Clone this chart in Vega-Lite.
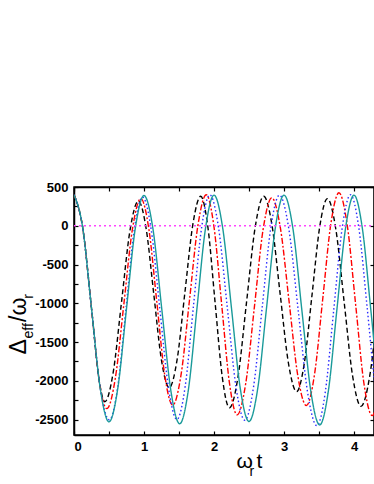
{
  "$schema": "https://vega.github.io/schema/vega-lite/v6.json",
  "width": 300,
  "height": 248,
  "autosize": {"type": "none"},
  "padding": {"left": 74, "top": 187, "right": 0, "bottom": 49},
  "background": "white",
  "config": {
    "view": {"stroke": "black", "strokeWidth": 1.5},
    "axis": {
      "grid": false,
      "domainColor": "black",
      "domainWidth": 1.5,
      "tickColor": "black",
      "tickWidth": 1.2,
      "tickSize": -4,
      "labelFont": "Liberation Sans",
      "labelFontWeight": "bold",
      "labelFontSize": 13,
      "labelColor": "black",
      "titleFont": "Liberation Sans",
      "titleFontWeight": "normal",
      "titleColor": "black"
    }
  },
  "layer": [
    {
      "data": {
        "values": [
          {"s":"a","x":0,"y":400},{"s":"a","x":0.125,"y":-29},{"s":"a","x":0.25,"y":-1065},{"s":"a","x":0.36,"y":-2000},{"s":"a","x":0.44,"y":-2270},{"s":"a","x":0.56,"y":-1891},{"s":"a","x":0.68,"y":-975},{"s":"a","x":0.8,"y":-59},{"s":"a","x":0.92,"y":320},{"s":"a","x":1.03,"y":-33},{"s":"a","x":1.14,"y":-885},{"s":"a","x":1.25,"y":-1737},{"s":"a","x":1.36,"y":-2090},{"s":"a","x":1.473,"y":-1728},{"s":"a","x":1.585,"y":-855},{"s":"a","x":1.698,"y":18},{"s":"a","x":1.81,"y":380},{"s":"a","x":1.913,"y":-20},{"s":"a","x":2.015,"y":-985},{"s":"a","x":2.118,"y":-1950},{"s":"a","x":2.22,"y":-2350},{"s":"a","x":2.343,"y":-1950},{"s":"a","x":2.465,"y":-985},{"s":"a","x":2.588,"y":-20},{"s":"a","x":2.71,"y":380},{"s":"a","x":2.828,"y":11},{"s":"a","x":2.945,"y":-880},{"s":"a","x":3.063,"y":-1771},{"s":"a","x":3.18,"y":-2140},{"s":"a","x":3.29,"y":-1775},{"s":"a","x":3.4,"y":-895},{"s":"a","x":3.51,"y":-15},{"s":"a","x":3.62,"y":350},{"s":"a","x":3.74,"y":-42},{"s":"a","x":3.86,"y":-990},{"s":"a","x":3.98,"y":-1938},{"s":"a","x":4.1,"y":-2330},{"s":"a","x":4.225,"y":-1938},{"s":"a","x":4.35,"y":-990},{"s":"a","x":4.475,"y":-42},{"s":"a","x":4.6,"y":350},
          {"s":"b","x":0,"y":400},{"s":"b","x":0.125,"y":-29},{"s":"b","x":0.25,"y":-1065},{"s":"b","x":0.37,"y":-2060},{"s":"b","x":0.47,"y":-2360},{"s":"b","x":0.591,"y":-1963},{"s":"b","x":0.713,"y":-1005},{"s":"b","x":0.834,"y":-47},{"s":"b","x":0.955,"y":350},{"s":"b","x":1.069,"y":-40},{"s":"b","x":1.183,"y":-983},{"s":"b","x":1.296,"y":-1925},{"s":"b","x":1.41,"y":-2315},{"s":"b","x":1.53,"y":-1918},{"s":"b","x":1.65,"y":-958},{"s":"b","x":1.77,"y":3},{"s":"b","x":1.89,"y":400},{"s":"b","x":2.0,"y":-16},{"s":"b","x":2.11,"y":-1020},{"s":"b","x":2.22,"y":-2024},{"s":"b","x":2.33,"y":-2440},{"s":"b","x":2.454,"y":-2030},{"s":"b","x":2.578,"y":-1040},{"s":"b","x":2.701,"y":-50},{"s":"b","x":2.825,"y":360},{"s":"b","x":2.949,"y":-32},{"s":"b","x":3.073,"y":-980},{"s":"b","x":3.196,"y":-1928},{"s":"b","x":3.32,"y":-2320},{"s":"b","x":3.436,"y":-1918},{"s":"b","x":3.553,"y":-948},{"s":"b","x":3.669,"y":23},{"s":"b","x":3.785,"y":425},{"s":"b","x":3.904,"y":4},{"s":"b","x":4.023,"y":-1013},{"s":"b","x":4.141,"y":-2029},{"s":"b","x":4.26,"y":-2450},{"s":"b","x":4.37,"y":-2033},{"s":"b","x":4.48,"y":-1025},
          {"s":"c","x":0,"y":400},{"s":"c","x":0.125,"y":-29},{"s":"c","x":0.25,"y":-1065},{"s":"c","x":0.375,"y":-2095},{"s":"c","x":0.505,"y":-2505},{"s":"c","x":0.624,"y":-2084},{"s":"c","x":0.743,"y":-1068},{"s":"c","x":0.861,"y":-51},{"s":"c","x":0.98,"y":370},{"s":"c","x":1.103,"y":-50},{"s":"c","x":1.225,"y":-1065},{"s":"c","x":1.348,"y":-2080},{"s":"c","x":1.47,"y":-2500},{"s":"c","x":1.588,"y":-2075},{"s":"c","x":1.705,"y":-1050},{"s":"c","x":1.823,"y":-25},{"s":"c","x":1.94,"y":400},{"s":"c","x":2.065,"y":-26},{"s":"c","x":2.19,"y":-1055},{"s":"c","x":2.315,"y":-2084},{"s":"c","x":2.44,"y":-2510},{"s":"c","x":2.564,"y":-2085},{"s":"c","x":2.688,"y":-1058},{"s":"c","x":2.811,"y":-30},{"s":"c","x":2.935,"y":395},{"s":"c","x":3.069,"y":-41},{"s":"c","x":3.203,"y":-1093},{"s":"c","x":3.336,"y":-2144},{"s":"c","x":3.47,"y":-2580},{"s":"c","x":3.59,"y":-2144},{"s":"c","x":3.71,"y":-1090},{"s":"c","x":3.83,"y":-36},{"s":"c","x":3.95,"y":400},{"s":"c","x":4.07,"y":-32},{"s":"c","x":4.19,"y":-1075},{"s":"c","x":4.31,"y":-2118},{"s":"c","x":4.43,"y":-2550},
          {"s":"d","x":0,"y":400},{"s":"d","x":0.125,"y":-29},{"s":"d","x":0.25,"y":-1065},{"s":"d","x":0.375,"y":-2101},{"s":"d","x":0.5,"y":-2530},{"s":"d","x":0.625,"y":-2102},{"s":"d","x":0.75,"y":-1070},{"s":"d","x":0.875,"y":-37},{"s":"d","x":1.0,"y":390},{"s":"d","x":1.128,"y":-41},{"s":"d","x":1.255,"y":-1083},{"s":"d","x":1.383,"y":-2124},{"s":"d","x":1.51,"y":-2555},{"s":"d","x":1.633,"y":-2123},{"s":"d","x":1.755,"y":-1080},{"s":"d","x":1.878,"y":-37},{"s":"d","x":2.0,"y":395},{"s":"d","x":2.125,"y":-33},{"s":"d","x":2.25,"y":-1065},{"s":"d","x":2.375,"y":-2098},{"s":"d","x":2.5,"y":-2525},{"s":"d","x":2.625,"y":-2098},{"s":"d","x":2.75,"y":-1065},{"s":"d","x":2.875,"y":-33},{"s":"d","x":3.0,"y":395},{"s":"d","x":3.128,"y":-39},{"s":"d","x":3.255,"y":-1088},{"s":"d","x":3.383,"y":-2136},{"s":"d","x":3.51,"y":-2570},{"s":"d","x":3.633,"y":-2136},{"s":"d","x":3.755,"y":-1088},{"s":"d","x":3.878,"y":-39},{"s":"d","x":4.0,"y":395},{"s":"d","x":4.12,"y":-38},{"s":"d","x":4.24,"y":-1083},{"s":"d","x":4.36,"y":-2127},{"s":"d","x":4.48,"y":-2560}
        ]
      },
      "mark": {"type": "line", "interpolate": "monotone", "clip": true},
      "encoding": {
        "x": {
          "field": "x", "type": "quantitative",
          "scale": {"domain": [0, 4.2857], "nice": false, "zero": false},
          "axis": {
            "orient": "bottom",
            "values": [0, 0.5, 1, 1.5, 2, 2.5, 3, 3.5, 4],
            "labelExpr": "datum.value % 1 == 0 ? '' + datum.value : ''",
            "labelPadding": 9,
            "title": "ω\u2006t",
            "titleFontSize": 21,
            "titleAlign": "left",
            "titleBaseline": "alphabetic",
            "titleAngle": 0,
            "titleX": 162,
            "titleY": 32
          }
        },
        "y": {
          "field": "y", "type": "quantitative",
          "scale": {"domain": [-2700, 500], "nice": false, "zero": false},
          "axis": {
            "orient": "left",
            "values": [500, 250, 0, -250, -500, -750, -1000, -1250, -1500, -1750, -2000, -2250, -2500],
            "labelExpr": "datum.value % 500 == 0 ? '' + datum.value : ''",
            "labelPadding": 10,
            "title": "Δ\u2005\u2005\u2005/ω",
            "titleFontSize": 23,
            "titleAlign": "left",
            "titleBaseline": "alphabetic",
            "titleAngle": 270,
            "titleX": -49,
            "titleY": 167
          }
        },
        "color": {
          "field": "s", "type": "nominal",
          "scale": {"domain": ["a", "b", "c", "d"], "range": ["#000000", "#ff0000", "#2a2aff", "#1a9a9a"]},
          "legend": null
        },
        "strokeDash": {
          "field": "s", "type": "nominal",
          "scale": {"domain": ["a", "b", "c", "d"], "range": [[5, 3], [6, 2, 2, 2], [1.5, 2.5], [1, 0]]},
          "legend": null
        },
        "strokeWidth": {
          "field": "s", "type": "nominal",
          "scale": {"domain": ["a", "b", "c", "d"], "range": [1.4, 1.4, 1.6, 1.4]},
          "legend": null
        }
      }
    },
    {
      "data": {"values": [{"x": 0, "y": 0}, {"x": 4.2857, "y": 0}]},
      "mark": {"type": "line", "color": "#ff44ff", "strokeWidth": 1.7, "strokeDash": [2, 3], "clip": true},
      "encoding": {
        "x": {
          "field": "x", "type": "quantitative",
          "scale": {"domain": [0, 4.2857], "nice": false, "zero": false},
          "axis": {
            "orient": "top",
            "values": [0, 0.5, 1, 1.5, 2, 2.5, 3, 3.5, 4],
            "labels": false,
            "title": "r",
            "titleFontSize": 14,
            "titleAlign": "left",
            "titleBaseline": "alphabetic",
            "titleAngle": 0,
            "titleX": 175,
            "titleY": 288
          }
        },
        "y": {
          "field": "y", "type": "quantitative",
          "scale": {"domain": [-2700, 500], "nice": false, "zero": false},
          "axis": {
            "orient": "right",
            "values": [500, 0, -500, -1000, -1500, -2000, -2500],
            "labels": false,
            "title": "eff\u2002\u2002\u2002\u2005r",
            "titleFontSize": 14,
            "titleAlign": "left",
            "titleBaseline": "alphabetic",
            "titleAngle": 270,
            "titleX": -342,
            "titleY": 151
          }
        }
      }
    }
  ],
  "resolve": {"scale": {"x": "independent", "y": "independent"}}
}
